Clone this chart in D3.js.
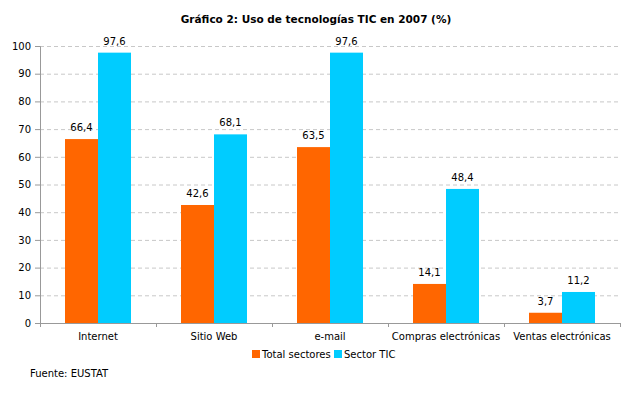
<!DOCTYPE html>
<html>
<head>
<meta charset="utf-8">
<script src="https://cdn.jsdelivr.net/npm/d3@7"></script>
<style>
  body { margin: 0; background: #fff; }
  text { font-family: "DejaVu Sans", Verdana, sans-serif; }
</style>
</head>
<body>
<script>
const categories = ['Internet', 'Sitio Web', 'e-mail', 'Compras electrónicas', 'Ventas electrónicas']
const seriesNames = ['Total sectores', 'Sector TIC']
const totalSectores = [66.4, 42.6, 63.5, 14.1, 3.7]
const sectorTIC = [97.6, 68.1, 97.6, 48.4, 11.2]
const colors = ['#ff6600', '#00ccff']
const yTicks = [0, 10, 20, 30, 40, 50, 60, 70, 80, 90, 100]

const w = 631
const h = 393
const plotLeft = 40, plotRight = 620, plotTop = 46, plotBottom = 323

const svg = d3.select('body').append('svg')
  .attr('width', w)
  .attr('height', h)

svg.append('text')
  .attr('x', 316).attr('y', 23)
  .attr('text-anchor', 'middle')
  .attr('font-size', 10.5).attr('font-weight', 'bold')
  .text('Gráfico 2: Uso de tecnologías TIC en 2007 (%)')

const x = d3.scaleBand().domain(categories).range([plotLeft, plotRight])
const xs = d3.scaleBand().domain(seriesNames).range([25, x.bandwidth() - 25])
const y = d3.scaleLinear().domain([0, 100]).range([plotBottom, plotTop])

// gridlines
svg.append('g').selectAll('line')
  .data(yTicks.filter(d => d > 0))
  .enter().append('line')
  .attr('x1', plotLeft).attr('x2', plotRight)
  .attr('y1', d => y(d) + 0.5).attr('y2', d => y(d) + 0.5)
  .attr('stroke', '#c8c8c8')
  .attr('stroke-dasharray', '4,3')

const data = categories.map((c, i) => ({ cat: c, vals: [totalSectores[i], sectorTIC[i]] }))

const groups = svg.append('g').selectAll('g')
  .data(data).enter().append('g')
  .attr('transform', d => `translate(${x(d.cat)},0)`)

groups.selectAll('rect')
  .data(d => d.vals.map((v, j) => ({ v, s: seriesNames[j], j })))
  .enter().append('rect')
  .attr('x', d => xs(d.s))
  .attr('width', xs.bandwidth())
  .attr('y', d => y(d.v))
  .attr('height', d => y(0) - y(d.v))
  .attr('fill', d => colors[d.j])

groups.selectAll('text')
  .data(d => d.vals.map((v, j) => ({ v, s: seriesNames[j] })))
  .enter().append('text')
  .attr('x', d => xs(d.s) + xs.bandwidth() / 2)
  .attr('y', d => y(d.v) - 8)
  .attr('text-anchor', 'middle')
  .attr('font-size', 10)
  .text(d => d3.format('.1f')(d.v).replace('.', ','))

// y axis
const yAxis = d3.axisLeft(y).tickValues(yTicks).tickSize(5).tickPadding(4)
const ya = svg.append('g').attr('transform', `translate(${plotLeft},0)`).call(yAxis)
ya.select('.domain').attr('stroke', '#999')
ya.selectAll('.tick line').attr('stroke', '#999')
ya.selectAll('.tick text').attr('font-size', 10).attr('fill', '#000')
  .style('font-family', '"DejaVu Sans", Verdana, sans-serif')

// x axis
const xAxis = d3.axisBottom(x).tickSize(0).tickPadding(10)
const xa = svg.append('g').attr('transform', `translate(0,${plotBottom})`).call(xAxis)
xa.select('.domain').attr('stroke', '#999').attr('d', `M${plotLeft},0.5H${plotRight}`)
xa.selectAll('.tick text').attr('font-size', 10).attr('fill', '#000')
  .style('font-family', '"DejaVu Sans", Verdana, sans-serif')
svg.append('g').selectAll('line')
  .data(d3.range(categories.length + 1))
  .enter().append('line')
  .attr('x1', i => plotLeft + i * x.bandwidth() + 0.5)
  .attr('x2', i => plotLeft + i * x.bandwidth() + 0.5)
  .attr('y1', plotBottom).attr('y2', plotBottom + 4)
  .attr('stroke', '#999')

// legend
const legX = [252, 334]
const leg = svg.append('g').selectAll('g')
  .data(seriesNames).enter().append('g')
  .attr('transform', (d, i) => `translate(${legX[i]},350)`)
leg.append('rect').attr('width', 8).attr('height', 8).attr('fill', (d, i) => colors[i])
leg.append('text').attr('x', 10).attr('y', 8).attr('font-size', 10).text(d => d)

svg.append('text')
  .attr('x', 30).attr('y', 377)
  .attr('font-size', 10)
  .text('Fuente: EUSTAT')
</script>
</body>
</html>
